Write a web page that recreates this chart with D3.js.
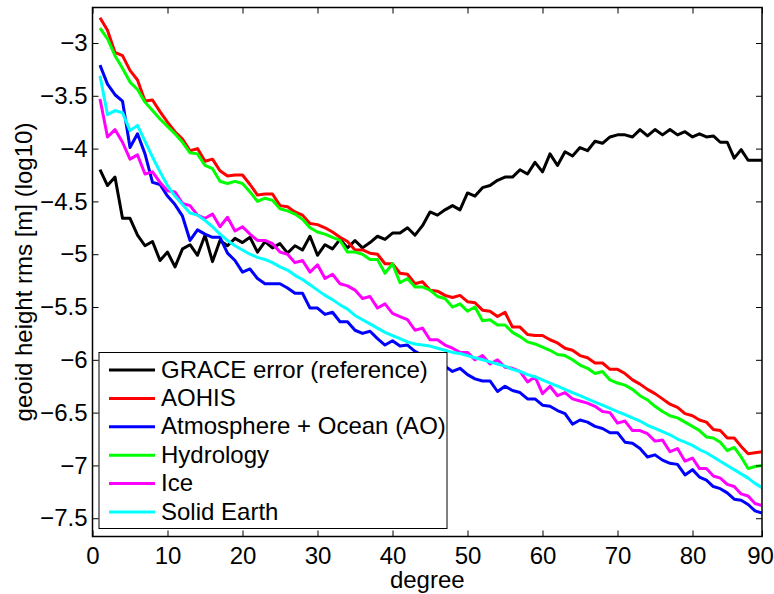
<!DOCTYPE html>
<html>
<head>
<meta charset="utf-8">
<script src="https://d3js.org/d3.v7.min.js"></script>
<style>
body { margin: 0; background: #fff; }
text { font-family: "Liberation Sans", Arial, Helvetica, sans-serif; }
</style>
</head>
<body>
<div id="chart"></div>
<script>
// spherical harmonic degree 1..90
var degrees = d3.range(1, 91);

var grace = [-4.20,-4.35,-4.27,-4.66,-4.66,-4.82,-4.92,-4.88,-5.06,-4.98,
  -5.12,-4.95,-4.91,-5.01,-4.82,-5.07,-4.87,-4.92,-4.85,-4.89,
  -4.84,-4.98,-4.88,-4.94,-4.90,-4.99,-4.92,-4.96,-4.83,-5.01,
  -4.91,-4.95,-4.86,-4.94,-4.87,-4.94,-4.89,-4.83,-4.86,-4.80,
  -4.80,-4.75,-4.82,-4.73,-4.60,-4.63,-4.58,-4.54,-4.58,-4.42,
  -4.45,-4.37,-4.35,-4.30,-4.27,-4.27,-4.20,-4.24,-4.13,-4.22,
  -4.05,-4.16,-4.03,-4.07,-3.99,-4.02,-3.93,-3.95,-3.89,-3.87,
  -3.87,-3.89,-3.82,-3.88,-3.82,-3.87,-3.82,-3.87,-3.84,-3.89,
  -3.86,-3.89,-3.88,-3.94,-3.94,-4.09,-4.01,-4.11,-4.11,-4.11];

var aohis = [-2.76,-2.88,-3.09,-3.12,-3.26,-3.35,-3.55,-3.54,-3.65,-3.75,
  -3.84,-3.91,-4.02,-4.00,-4.12,-4.10,-4.21,-4.26,-4.25,-4.25,
  -4.34,-4.44,-4.43,-4.43,-4.54,-4.55,-4.60,-4.63,-4.71,-4.72,
  -4.75,-4.79,-4.84,-4.88,-4.96,-4.96,-4.99,-5.00,-5.09,-5.09,
  -5.18,-5.19,-5.28,-5.26,-5.34,-5.35,-5.39,-5.41,-5.39,-5.45,
  -5.46,-5.53,-5.54,-5.59,-5.55,-5.69,-5.69,-5.76,-5.77,-5.77,
  -5.81,-5.84,-5.89,-5.91,-5.96,-5.98,-6.03,-6.03,-6.09,-6.09,
  -6.13,-6.19,-6.23,-6.28,-6.32,-6.37,-6.42,-6.45,-6.51,-6.53,
  -6.57,-6.59,-6.66,-6.67,-6.74,-6.74,-6.82,-6.89,-6.88,-6.87];

var atmOcean = [-3.21,-3.39,-3.49,-3.55,-3.99,-3.86,-4.05,-4.32,-4.34,-4.45,
  -4.53,-4.64,-4.87,-4.77,-4.81,-4.84,-4.84,-4.99,-5.06,-5.17,
  -5.14,-5.23,-5.28,-5.28,-5.28,-5.32,-5.37,-5.37,-5.51,-5.51,
  -5.57,-5.55,-5.64,-5.64,-5.72,-5.75,-5.73,-5.80,-5.86,-5.82,
  -5.87,-5.86,-5.92,-5.96,-6.00,-6.03,-6.06,-6.11,-6.08,-6.14,
  -6.18,-6.20,-6.20,-6.30,-6.25,-6.29,-6.31,-6.37,-6.37,-6.43,
  -6.44,-6.48,-6.51,-6.61,-6.57,-6.59,-6.63,-6.65,-6.69,-6.69,
  -6.78,-6.79,-6.84,-6.92,-6.90,-6.95,-6.98,-6.99,-7.09,-7.04,
  -7.11,-7.14,-7.20,-7.22,-7.26,-7.32,-7.33,-7.37,-7.43,-7.45];

var hydrology = [-2.86,-2.96,-3.12,-3.24,-3.37,-3.44,-3.56,-3.64,-3.72,-3.79,
  -3.86,-3.94,-4.04,-4.05,-4.16,-4.19,-4.31,-4.33,-4.31,-4.33,
  -4.41,-4.50,-4.47,-4.49,-4.57,-4.59,-4.62,-4.67,-4.75,-4.79,
  -4.81,-4.84,-4.87,-4.98,-4.98,-5.00,-5.05,-5.05,-5.18,-5.09,
  -5.27,-5.23,-5.31,-5.31,-5.34,-5.40,-5.42,-5.50,-5.47,-5.54,
  -5.50,-5.63,-5.62,-5.67,-5.67,-5.74,-5.78,-5.83,-5.85,-5.88,
  -5.91,-5.95,-5.96,-6.00,-6.05,-6.08,-6.13,-6.11,-6.19,-6.22,
  -6.24,-6.28,-6.34,-6.38,-6.44,-6.49,-6.53,-6.55,-6.59,-6.63,
  -6.67,-6.73,-6.74,-6.78,-6.86,-6.83,-6.92,-7.03,-7.01,-7.00];

var ice = [-3.53,-3.89,-3.82,-3.94,-4.10,-4.06,-4.24,-4.22,-4.32,-4.40,
  -4.41,-4.52,-4.54,-4.63,-4.66,-4.62,-4.74,-4.65,-4.78,-4.74,
  -4.81,-4.87,-4.87,-4.90,-4.98,-5.00,-5.08,-5.06,-5.17,-5.10,
  -5.23,-5.19,-5.28,-5.30,-5.34,-5.42,-5.40,-5.51,-5.47,-5.56,
  -5.59,-5.62,-5.72,-5.70,-5.81,-5.81,-5.86,-5.89,-5.93,-5.93,
  -6.00,-5.96,-6.04,-6.00,-6.07,-6.08,-6.11,-6.21,-6.16,-6.32,
  -6.25,-6.34,-6.31,-6.37,-6.39,-6.41,-6.44,-6.49,-6.50,-6.60,
  -6.58,-6.67,-6.67,-6.70,-6.77,-6.76,-6.87,-6.84,-6.96,-6.93,
  -7.03,-7.03,-7.10,-7.12,-7.18,-7.20,-7.27,-7.29,-7.36,-7.38];

var solidEarth = [-3.31,-3.68,-3.64,-3.66,-3.83,-3.78,-3.93,-4.08,-4.22,-4.35,
  -4.45,-4.53,-4.61,-4.63,-4.68,-4.74,-4.81,-4.87,-4.92,-4.96,
  -5.00,-5.03,-5.05,-5.08,-5.12,-5.15,-5.20,-5.24,-5.29,-5.34,
  -5.39,-5.43,-5.48,-5.52,-5.58,-5.62,-5.66,-5.70,-5.74,-5.77,
  -5.80,-5.83,-5.85,-5.86,-5.87,-5.89,-5.91,-5.93,-5.94,-5.96,
  -5.98,-6.00,-6.02,-6.04,-6.06,-6.09,-6.11,-6.14,-6.16,-6.19,
  -6.22,-6.25,-6.28,-6.31,-6.34,-6.37,-6.40,-6.43,-6.46,-6.49,
  -6.52,-6.55,-6.58,-6.62,-6.65,-6.68,-6.71,-6.75,-6.78,-6.81,
  -6.85,-6.88,-6.92,-6.96,-7.00,-7.04,-7.08,-7.12,-7.17,-7.21];

var seriesNames = ["GRACE error (reference)", "AOHIS", "Atmosphere + Ocean (AO)",
                   "Hydrology", "Ice", "Solid Earth"];
var seriesValues = [grace, aohis, atmOcean, hydrology, ice, solidEarth];
var seriesColors = ["#000000", "#ff0000", "#0000ff", "#00ff00", "#ff00ff", "#00ffff"];

var xTicks = [0, 10, 20, 30, 40, 50, 60, 70, 80, 90];
var yTicks = [-7.5, -7, -6.5, -6, -5.5, -5, -4.5, -4, -3.5, -3];

// set the dimensions and margins of the graph
var margin = {top: 7.5, left: 92.5},
    width = 669.5,
    height = 529,
    fontSize = 24

var root = d3.select("#chart")
  .append("svg")
    .attr("width", 774)
    .attr("height", 594)

var svg = root.append("g")
    .attr("transform", "translate(" + margin.left + "," + margin.top + ")");

// the last decade of the original axis is a bit squeezed
var x = d3.scaleLinear()
  .domain([0, 80, 90])
  .range([0, 600, width])

var y = d3.scaleLinear()
  .domain([-7.673, -2.664])
  .range([height, 0])

svg.append("clipPath")
    .attr("id", "plotClip")
  .append("rect")
    .attr("width", width)
    .attr("height", height)

// lines, drawn in legend order
var line = d3.line()
  .x(function(d, i) { return x(degrees[i]); })
  .y(function(d) { return y(d); })

svg.append("g")
    .attr("clip-path", "url(#plotClip)")
  .selectAll("path")
  .data(seriesValues)
  .enter()
  .append("path")
    .attr("d", line)
    .attr("fill", "none")
    .attr("stroke", function(d, i) { return seriesColors[i]; })
    .attr("stroke-width", 3)
    .attr("stroke-linejoin", "round")

// axes with inward ticks, MATLAB style
function styleAxis(g) {
  g.select(".domain").remove()
  g.attr("font-size", fontSize)
   .attr("font-family", null)
  g.selectAll(".tick line").attr("stroke-width", 1)
  g.selectAll(".tick text").attr("fill", "#000")
}

var xAxis = svg.append("g")
    .attr("transform", "translate(0," + height + ")")
    .call(d3.axisBottom(x).tickValues(xTicks).tickSizeInner(-6).tickSizeOuter(0).tickPadding(10))
    .call(styleAxis)

// keep the last label inside the page
xAxis.selectAll(".tick text")
    .filter(function(d) { return d === 90; })
    .attr("dx", -2)

svg.append("g")
    .call(d3.axisTop(x).tickValues(xTicks).tickSizeInner(-6).tickSizeOuter(0).tickFormat(""))
    .call(styleAxis)

svg.append("g")
    .call(d3.axisLeft(y).tickValues(yTicks).tickSizeInner(-6).tickSizeOuter(0).tickPadding(5)
      .tickFormat(d3.format("")))
    .call(styleAxis)

svg.append("g")
    .attr("transform", "translate(" + width + ",0)")
    .call(d3.axisRight(y).tickValues(yTicks).tickSizeInner(-6).tickSizeOuter(0).tickFormat(""))
    .call(styleAxis)

svg.append("rect")
    .attr("width", width)
    .attr("height", height)
    .attr("fill", "none")
    .attr("stroke", "#000")
    .attr("stroke-width", 1.5)

// axis labels
root.append("text")
    .attr("transform", "translate(32," + (margin.top + height / 2) + ") rotate(-90)")
    .attr("text-anchor", "middle")
    .attr("font-size", fontSize)
    .text("geoid height rms [m] (log10)")

root.append("text")
    .attr("x", margin.left + width / 2)
    .attr("y", 587.5)
    .attr("text-anchor", "middle")
    .attr("font-size", fontSize)
    .text("degree")

// legend
var legend = root.append("g")
    .attr("transform", "translate(99,352.5)")

legend.append("rect")
    .attr("width", 348)
    .attr("height", 176)
    .attr("fill", "#fff")
    .attr("stroke", "#000")
    .attr("stroke-width", 1)

var rows = legend.selectAll(".row")
  .data(seriesNames)
  .enter()
  .append("g")
    .attr("class", "row")
    .attr("transform", function(d, i) { return "translate(0," + (17.5 + i * 28.4) + ")"; })

rows.append("line")
    .attr("x1", 10)
    .attr("x2", 56)
    .attr("stroke", function(d, i) { return seriesColors[i]; })
    .attr("stroke-width", 3)

rows.append("text")
    .attr("x", 62)
    .attr("dy", "0.32em")
    .attr("font-size", fontSize)
    .text(function(d) { return d; })
</script>
</body>
</html>
